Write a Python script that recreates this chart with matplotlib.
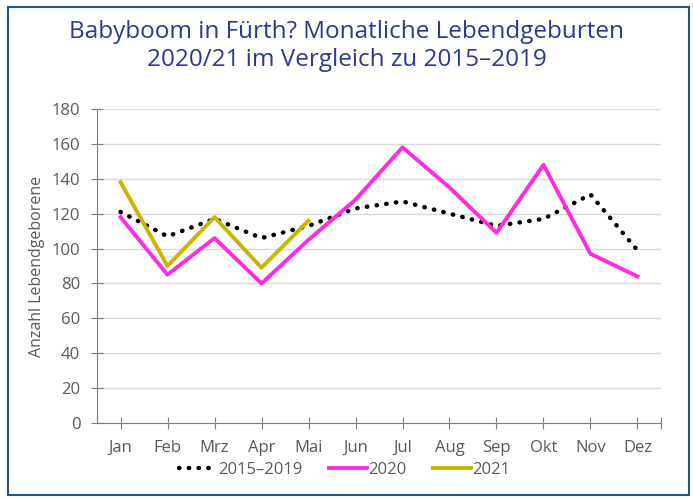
import matplotlib
matplotlib.use('Agg')
import matplotlib.pyplot as plt
from matplotlib.patches import Rectangle

plt.rcParams['font.family'] = ['Open Sans', 'DejaVu Sans']

# Monate und Lebendgeburten
months = ['Jan', 'Feb', 'Mrz', 'Apr', 'Mai', 'Jun', 'Jul', 'Aug', 'Sep', 'Okt', 'Nov', 'Dez']
avg_2015_2019 = [121, 107, 117, 106, 113, 123, 127, 120, 113, 117, 131, 99]
births_2020 = [118, 85, 106, 80, 105, 128, 158, 135, 109, 148, 97, 84]
births_2021 = [138, 90, 118, 89, 116]

fig = plt.figure(figsize=(6.93, 4.99), dpi=100)
ax = fig.add_axes([0.140, 0.1523, 0.8138, 0.6293])

x = list(range(len(months)))
ax.plot(x, avg_2015_2019, color='black', lw=3.2, linestyle=(0, (0.1, 2.1)),
        dash_capstyle='round', label='2015–2019')
ax.plot(x, births_2020, color='#FF2BE3', lw=2.8, label='2020')
ax.plot(x[:len(births_2021)], births_2021, color='#C9B500', lw=2.8, label='2021')

ax.set_xlim(-0.5, 11.5)
ax.set_ylim(0, 180)
ax.set_yticks(range(0, 181, 20))
ax.set_xticks(x + [11.5])
ax.set_xticklabels(months + [''])
ax.yaxis.grid(True, color='#D9D9D9', lw=1)
ax.set_axisbelow(True)

for s in ['top', 'right']:
    ax.spines[s].set_visible(False)
for s in ['left', 'bottom']:
    ax.spines[s].set_color('#7F7F7F')
ax.tick_params(axis='both', direction='inout', length=8, color='#7F7F7F',
               labelcolor='#595959', labelsize=12)
ax.tick_params(axis='y', pad=8)
ax.tick_params(axis='x', pad=8)

ax.set_ylabel('Anzahl Lebendgeborene', color='#595959', fontsize=11.5, labelpad=5)

fig.text(0.5, 0.96, 'Babyboom in Fürth? Monatliche Lebendgeburten\n2020/21 im Vergleich zu 2015–2019',
         ha='center', va='top', color='#2B3990', fontsize=17.5, linespacing=1.2)

leg = fig.legend(loc='center', bbox_to_anchor=(0.497, 0.058), ncol=3, frameon=False,
                 fontsize=12, handlelength=2.3, handletextpad=0.05, columnspacing=1.6)
for t in leg.get_texts():
    t.set_color('#595959')

fig.patches.append(Rectangle((0.011, 0.008), 0.983, 0.978, transform=fig.transFigure,
                             fill=False, edgecolor='#24577F', lw=1.5))

fig.savefig('out.png', dpi=100)
